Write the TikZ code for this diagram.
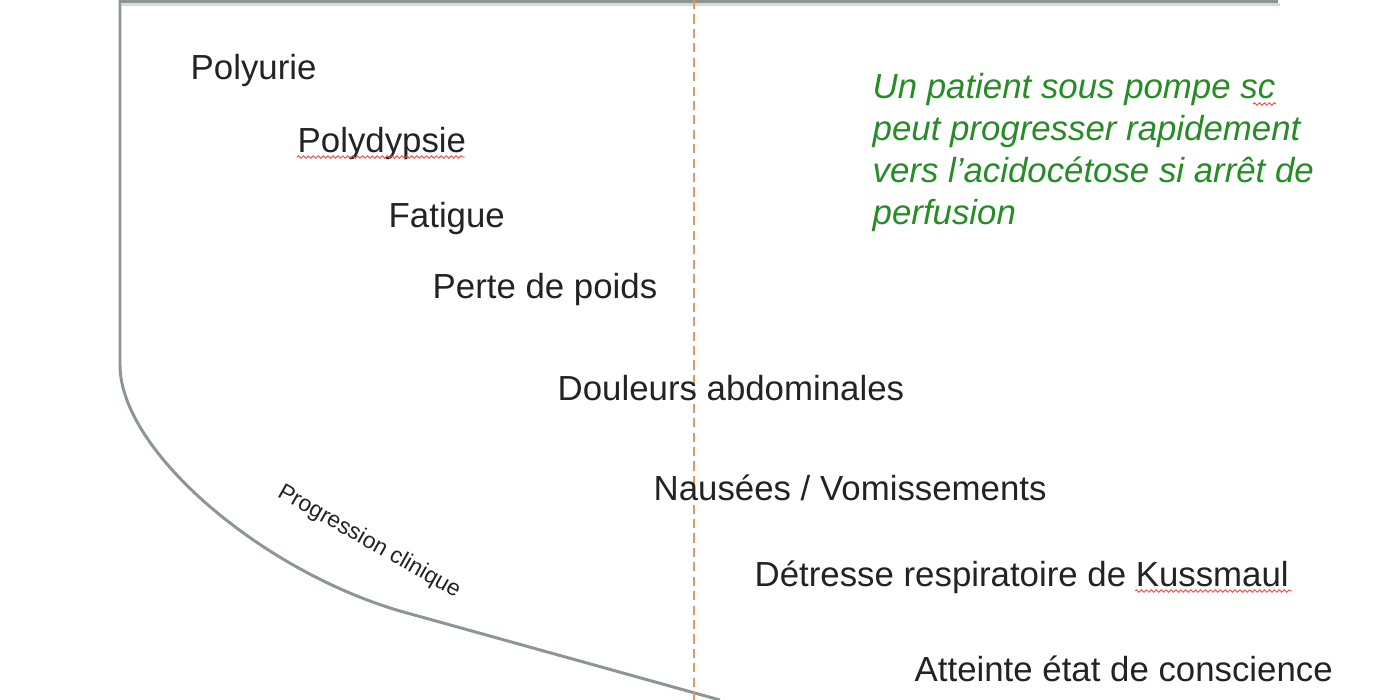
\documentclass[tikz,border=0pt]{standalone}
\usepackage{fontspec}
\setmainfont{Liberation Sans}
\usetikzlibrary{decorations.pathmorphing}
\definecolor{txtcol}{RGB}{35,35,35}
\definecolor{framecol}{RGB}{140,150,147}
\definecolor{shadowcol}{RGB}{215,218,216}
\definecolor{orangedash}{RGB}{236,146,96}
\definecolor{notecol}{RGB}{38,140,38}
\begin{document}
\begin{tikzpicture}[x=0.01cm,y=-0.01cm,
  lbl/.style={font=\fontsize{9.9pt}{11.9pt}\selectfont, text=txtcol, inner sep=0pt, anchor=base west},
  note/.style={font=\fontsize{9.9pt}{11.9pt}\selectfont\itshape, text=notecol, inner sep=0pt, anchor=north west, align=left},
  frameline/.style={draw=framecol, line width=0.85pt},
  divider/.style={draw=orangedash, line width=0.55pt, dash pattern=on 2.6pt off 1.5pt},
  wavy/.style={draw=red!75, line width=0.25pt, decorate, decoration={snake, amplitude=0.35pt, segment length=1.4pt}},
  axislabel/.style={font=\fontsize{6.5pt}{7.5pt}\selectfont, text=txtcol, inner sep=0pt, rotate=-29.5}]
\useasboundingbox (0,0) rectangle (1400,700);
\clip (0,0) rectangle (1400,700);
% frame
\draw[draw=shadowcol, line width=0.6pt] (122,4.5) -- (1280,4.5);
\draw[frameline] (1278,1.5) -- (120,1.5) -- (120,365) .. controls (120,450) and (260,570) .. (400,611) -- (720,700);
% divider
\coordinate (dtop) at (694,0);
\coordinate (dbot) at (694,700);
\draw[divider] (dtop) -- (dbot);
% symptoms
\node[lbl] (s1) at (190,79) {Polyurie};
\node[lbl] (s2) at (297,152) {Polydypsie};
\node[lbl] (s3) at (388,227) {Fatigue};
\node[lbl] (s4) at (432,298) {Perte de poids};
\node[lbl] (s5) at (557,400) {Douleurs abdominales};
\node[lbl] (s6) at (653,500) {Nausées / Vomissements};
\node[lbl] (s7) at (754,586) {Détresse respiratoire de Kussmaul};
\node[lbl] (s8) at (914,681) {Atteinte état de conscience};
% note
\node[note] (n1) at (872,73) {Un patient sous pompe sc\\peut progresser rapidement\\vers l’acidocétose si arrêt de\\perfusion};
% axis label
\node[axislabel] (ax) at (369,542) {Progression clinique};
% spell-check marks
\draw[wavy] (297,157) -- (465,157);
\draw[wavy] (1253,104) -- (1276,104);
\draw[wavy] (1135,591) -- (1292,591);
\end{tikzpicture}
\end{document}
